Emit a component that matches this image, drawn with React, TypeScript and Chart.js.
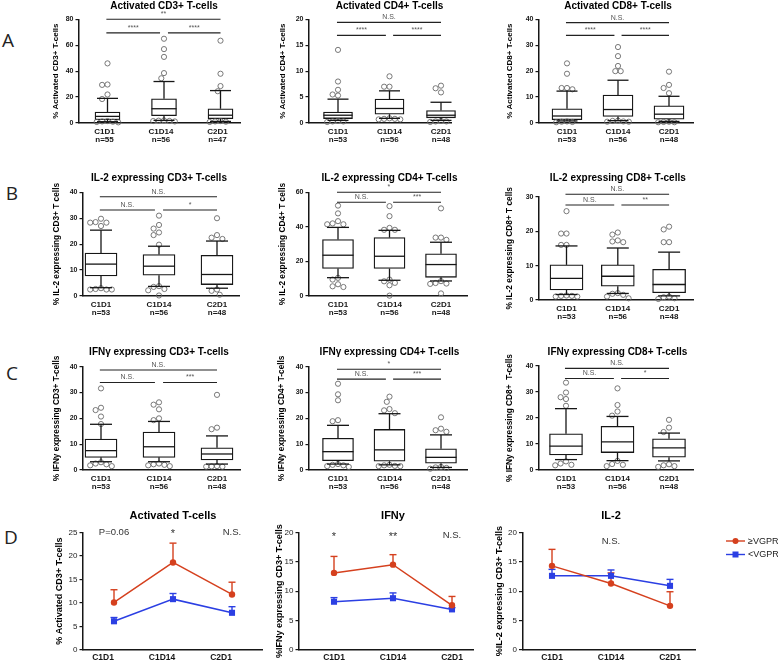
import React, { useEffect, useRef } from 'react';
import { Chart, registerables } from 'chart.js';
Chart.register(...registerables);

const FONT = '"Liberation Sans", Arial, Helvetica, sans-serif';
Chart.defaults.font.family = FONT;

const CATS = ['C1D1', 'C1D14', 'C2D1'];

// ---------- Row A : activated T-cells ----------
// box rows: [low whisker, Q1, median, Q3, high whisker]
const A1_N = ['n=55', 'n=56', 'n=47'];
const A1_BOX = [[1.0, 2.5, 5.1, 8.5, 19], [2.0, 5.6, 11, 18.7, 32], [1.2, 3.3, 6.0, 11, 25]];
const A1_OUT = [[46, 29.7, 29.4, 22, 18.5, 1.5, 1.2, 1.0, 0.8, 0.5], [65, 57, 51, 38.5, 34.5, 2.0, 1.8, 1.6, 1.5, 1.2], [63.5, 38, 28.5, 24.5, 1.5, 1.2, 1.0, 0.8]];
const A1_SIG_Y = [80, 69.5];
const A1_SIG = ['**', '****', '****'];

const A2_N = ['n=53', 'n=56', 'n=48'];
const A2_BOX = [[0.5, 0.85, 1.5, 2.1, 4.6], [0.9, 1.7, 2.8, 4.6, 6.2], [0.5, 1.0, 1.5, 2.4, 4.0]];
const A2_OUT = [[14.1, 8, 6.4, 5.5, 5.3, 0.4, 0.3, 0.3, 0.2], [9, 7, 7, 0.9, 0.8, 0.8, 0.7, 0.7], [7.2, 6.7, 5.9, 0.4, 0.3, 0.3, 0.2]];
const A2_SIG_Y = [19.4, 16.9];
const A2_SIG = ['N.S.', '****', '****'];

const A3_N = ['n=53', 'n=56', 'n=48'];
const A3_BOX = [[0.8, 1.3, 2.7, 5.5, 12.3], [0.9, 2.5, 5.2, 10.8, 16.5], [0.6, 1.5, 3.4, 6.6, 10.3]];
const A3_OUT = [[23, 19, 13.5, 13.5, 13, 0.6, 0.5, 0.4, 0.3], [29.3, 25.8, 22, 20, 20, 0.9, 0.8, 0.6, 0.5, 0.5], [19.8, 14.7, 13.5, 11.5, 0.5, 0.4, 0.3, 0.3]];
const A3_SIG_Y = [38.7, 33.8];
const A3_SIG = ['N.S.', '****', '****'];

// ---------- Row B : IL-2 ----------
const BC_N = ['n=53', 'n=56', 'n=48'];
const B1_BOX = [[3.2, 7.7, 12.3, 16.6, 25.4], [3.7, 8.0, 11.5, 16.0, 19.2], [3.0, 4.4, 8.3, 15.7, 21.2]];
const B1_OUT = [[29.8, 28.5, 28.3, 28.3, 27, 3.0, 2.7, 2.5, 2.5, 2.5], [31, 27.4, 26, 24.5, 23.5, 19.8, 3.8, 3.5, 2.7, 2.2, 0.2], [30, 23.5, 22.5, 22, 2.5, 2.0, 0.5]];
const B1_SIG_Y = [38.3, 33.2];
const B1_SIG = ['N.S.', 'N.S.', '*'];

const B2_BOX = [[10.6, 15.9, 23.6, 32.7, 39.7], [9.1, 15.9, 23.0, 33.8, 38.0], [8.7, 10.8, 18.2, 24.4, 31.1]];
const B2_OUT = [[52.3, 47.8, 43.3, 42, 41.5, 41.5, 10.5, 9.5, 6.8, 5.6, 5.2], [52, 46.2, 39.4, 38.3, 38.3, 9.5, 8.5, 7.6, 6.2, 0.2], [50.7, 33.8, 33.8, 32.5, 8.6, 7.5, 7.2, 7.0, 1.5]];
const B2_SIG_Y = [60, 54.2];
const B2_SIG = ['*', 'N.S.', '***'];

const B3_BOX = [[1.6, 2.9, 6.3, 10.2, 15.7], [1.9, 4.0, 6.9, 10.2, 15.1], [1.2, 2.1, 4.5, 8.9, 13.9]];
const B3_OUT = [[25.8, 19.3, 19.3, 16, 16, 1.3, 1.2, 1.2, 1.0, 1.0], [19.6, 19.0, 17.3, 17, 16.8, 2.0, 1.8, 1.5, 1.0, 0.5], [21.3, 20.5, 16.8, 16.8, 1.0, 0.8, 0.5, 0.3]];
const B3_SIG_Y = [30.7, 27.6];
const B3_SIG = ['N.S.', 'N.S.', '**'];

// ---------- Row C : IFN-gamma ----------
const C1_BOX = [[3.2, 4.9, 7.5, 12, 17.7], [3.2, 4.9, 9.0, 14.7, 18.8], [2.3, 3.9, 6.2, 8.6, 13.2]];
const C1_OUT = [[31.6, 24.1, 23.2, 20.7, 17.8, 3.0, 2.5, 2.2, 1.8, 1.5], [26.2, 25.3, 23.5, 20, 19.3, 2.5, 2.2, 2.0, 1.8, 1.5], [29.1, 16.4, 15.8, 1.5, 1.4, 1.3, 1.3]];
const C1_SIG_Y = [38.7, 33.9];
const C1_SIG = ['N.S.', 'N.S.', '***'];

const C2_BOX = [[2.3, 3.6, 7.1, 12.3, 17.3], [2.0, 3.4, 7.8, 15.7, 21.8], [1.0, 2.6, 4.9, 8.2, 13.6]];
const C2_OUT = [[33.4, 29.3, 27, 19.3, 18.9, 2.3, 2.0, 1.8, 1.5, 1.2], [28.4, 26.4, 23.6, 23.1, 22, 2.0, 1.8, 1.6, 1.5, 1.5], [20.4, 16, 15.4, 14.8, 1.2, 1.0, 0.8, 0.5]];
const C2_SIG_Y = [39, 35.2];
const C2_SIG = ['*', 'N.S.', '***'];

const C3_BOX = [[4.0, 5.8, 9.2, 13.9, 23.6], [3.6, 6.7, 10.8, 16.8, 20.6], [3.5, 4.9, 8.5, 12.0, 14.2]];
const C3_OUT = [[33.6, 29.8, 28, 27.3, 24.7, 3.3, 2.5, 2.0, 1.8], [31.4, 25, 22.5, 20.9, 3.5, 2.3, 2.0, 1.5], [19.3, 16.3, 14.6, 2.2, 1.8, 1.5, 1.2]];
const C3_SIG_Y = [39.1, 35.2];
const C3_SIG = ['N.S.', 'N.S.', '*'];

// ---------- Row D : response groups (mean + SEM) ----------
const SERIES = ['≥VGPR', '<VGPR'];
const D1_HI = [10.1, 18.6, 11.8];
const D1_HI_ERR = [2.7, 4.1, 2.6];
const D1_LO = [6.1, 10.8, 7.9];
const D1_LO_ERR = [0.8, 1.2, 1.3];
const D1_ANN = ['P=0.06', '*', 'N.S.'];

const D2_HI = [13.1, 14.5, 7.6];
const D2_HI_ERR = [2.8, 1.7, 1.5];
const D2_LO = [8.2, 8.8, 6.9];
const D2_LO_ERR = [0.7, 0.9, 0.3];
const D2_ANN = ['*', '**', 'N.S.'];

const D3_HI = [14.3, 11.3, 7.5];
const D3_HI_ERR = [2.8, 1.8, 2.4];
const D3_LO = [12.6, 12.6, 10.9];
const D3_LO_ERR = [1.1, 1.0, 1.1];
const D3_ANN = ['', 'N.S.', ''];

const RED = '#d5401e';
const BLUE = '#2b3fe3';
const INK = '#161616';

// ---------- geometry (page pixels) ----------
const geo = (ax, top, bottom, right, c1, sp, titleY, ytX, ytSize, boxW, extra = {}) =>
  ({ ax, top, bottom, right, c1, sp, titleY, ytX, ytSize, boxW, capW: 21, labelOff: 0, xh: 26, padR: 6, ...extra });

const BOX_PANELS = [
  { title: 'Activated CD3+ T-cells', ytitle: '% Activated CD3+ T-cells', n: A1_N, box: A1_BOX, out: A1_OUT, ymax: 80, step: 20, sigY: A1_SIG_Y, sig: A1_SIG, g: geo(79, 19.3, 122.7, 240, 107.5, 56.5, 6, 56, 8, 25, { labelOff: -3 }) },
  { title: 'Activated CD4+ T-cells', ytitle: '% Activated CD4+ T-cells', n: A2_N, box: A2_BOX, out: A2_OUT, ymax: 20, step: 5, sigY: A2_SIG_Y, sig: A2_SIG, g: geo(309, 19.3, 122.7, 451, 338, 51.5, 6, 283, 8, 29) },
  { title: 'Activated CD8+ T-cells', ytitle: '% Activated CD8+ T-cells', n: A3_N, box: A3_BOX, out: A3_OUT, ymax: 40, step: 10, sigY: A3_SIG_Y, sig: A3_SIG, g: geo(539, 19.3, 122.7, 693, 567, 51, 6, 510, 8, 30) },
  { title: 'IL-2 expressing CD3+ T-cells', ytitle: '% IL-2 expressing CD3+ T cells', n: BC_N, box: B1_BOX, out: B1_OUT, ymax: 40, step: 10, sigY: B1_SIG_Y, sig: B1_SIG, g: geo(83, 192.3, 295.7, 239, 101, 58, 178.5, 57, 8.3, 32, { capW: 22 }) },
  { title: 'IL-2 expressing CD4+ T-cells', ytitle: '% IL-2 expressing CD4+ T cells', n: BC_N, box: B2_BOX, out: B2_OUT, ymax: 60, step: 20, sigY: B2_SIG_Y, sig: B2_SIG, g: geo(309, 192.3, 295.7, 467, 338, 51.5, 178.5, 283, 8.3, 31, { capW: 22 }) },
  { title: 'IL-2 expressing CD8+ T-cells', ytitle: '% IL-2 expressing CD8+ T cells', n: BC_N, box: B3_BOX, out: B3_OUT, ymax: 30, step: 10, sigY: B3_SIG_Y, sig: B3_SIG, g: geo(539, 196.7, 300, 693, 566.5, 51.3, 178.5, 510, 8.3, 33, { capW: 22 }) },
  { title: 'IFNγ expressing CD3+ T-cells', ytitle: '% IFNy expressing CD3+ T-cells', n: BC_N, box: C1_BOX, out: C1_OUT, ymax: 40, step: 10, sigY: C1_SIG_Y, sig: C1_SIG, g: geo(83, 366.7, 470, 240, 101, 58, 352, 57, 8.3, 32, { capW: 22 }) },
  { title: 'IFNγ expressing CD4+ T-cells', ytitle: '% IFNy expressing CD4+ T-cells', n: BC_N, box: C2_BOX, out: C2_OUT, ymax: 40, step: 10, sigY: C2_SIG_Y, sig: C2_SIG, g: geo(309, 366.7, 469.3, 467, 338, 51.5, 352, 282, 8.3, 31, { capW: 22 }) },
  { title: 'IFNγ expressing CD8+ T-cells', ytitle: '% IFNy expressing CD8+  T-cells', n: BC_N, box: C3_BOX, out: C3_OUT, ymax: 40, step: 10, sigY: C3_SIG_Y, sig: C3_SIG, g: geo(539, 366, 469.3, 693, 566, 51.5, 352, 510, 8.3, 33, { capW: 22 }) },
];

const LINE_PANELS = [
  { title: 'Activated T-cells', ytitle: '% Activated CD3+ T-cells', hi: D1_HI, hiErr: D1_HI_ERR, lo: D1_LO, loErr: D1_LO_ERR, ann: D1_ANN, annY: 25, ymax: 25, legend: false, g: geo(83, 532.3, 650, 262, 114, 59, 515.5, 60, 9, 0, { xh: 13, labelOff: -11 }) },
  { title: 'IFNy', ytitle: '%IFNy expressing CD3+ T-cells', hi: D2_HI, hiErr: D2_HI_ERR, lo: D2_LO, loErr: D2_LO_ERR, ann: D2_ANN, annY: 19.5, ymax: 20, legend: false, g: geo(299, 532.3, 650, 473, 334, 59, 516, 280, 9, 0, { xh: 13 }) },
  { title: 'IL-2', ytitle: '%IL-2 expressing CD3+ T-cells', hi: D3_HI, hiErr: D3_HI_ERR, lo: D3_LO, loErr: D3_LO_ERR, ann: D3_ANN, annY: 18.5, ymax: 20, legend: true, g: geo(522.5, 532.3, 650, 695, 552, 59, 516, 500, 9, 0, { xh: 13, padR: 83 }) },
];

function canvasBox(g) {
  const l = Math.floor(g.ytX - 8);
  const t = Math.max(0, Math.floor(g.titleY - 9));
  const r = Math.ceil(g.right + g.padR);
  const b = Math.min(663, Math.ceil(g.bottom + g.xh));
  return { l, t, w: r - l, h: b - t };
}

// spread outliers side by side so circles do not overlap (beeswarm)
function swarm(vals, cat, pxX, pxY, d) {
  const placed = [];
  return vals.map((v) => {
    const py = v * pxY;
    for (let k = 0; k < 40; k++) {
      const m = Math.ceil(k / 2) * (k % 2 ? -1 : 1);
      const px = m * d * 0.5;
      if (placed.every(([qx, qy]) => Math.hypot(qx - px, qy - py) >= d)) {
        placed.push([px, py]);
        return { x: cat + px / pxX, y: v };
      }
    }
    return { x: cat, y: v };
  });
}

function seg(ctx, x1, y1, x2, y2) {
  ctx.beginPath();
  ctx.moveTo(x1, y1);
  ctx.lineTo(x2, y2);
  ctx.stroke();
}

function drawYTitle(ctx, text, x, y, size) {
  ctx.save();
  ctx.translate(x, y);
  ctx.rotate(-Math.PI / 2);
  ctx.font = `bold ${size}px ${FONT}`;
  ctx.fillStyle = '#000';
  ctx.textAlign = 'center';
  ctx.textBaseline = 'middle';
  ctx.fillText(text, 0, 0);
  ctx.restore();
}

function xScale(g, labels, font, padding) {
  return {
    type: 'linear', offset: false,
    min: 1 - (g.c1 - g.ax) / g.sp,
    max: 1 + (g.right - g.c1) / g.sp,
    afterBuildTicks: (sc) => { sc.ticks = CATS.map((_, i) => ({ value: i + 1 })); },
    afterFit: (sc) => { sc.height = g.xh; },
    ticks: { autoSkip: false, maxRotation: 0, minRotation: 0, padding, labelOffset: g.labelOff, color: INK, font, callback: (v) => labels[Math.round(v) - 1] },
    grid: { display: true, drawOnChartArea: false, drawTicks: false },
    border: { display: true, color: INK, width: 1.5 },
  };
}

function yScale(g, l, ymax, step, font, color) {
  return {
    type: 'linear', min: 0, max: ymax,
    afterFit: (sc) => { sc.width = g.ax - l; },
    ticks: { stepSize: step, padding: 2, color, font },
    grid: { display: true, drawOnChartArea: false, drawTicks: true, tickLength: 3.5, color: INK, lineWidth: 1.2 },
    border: { display: true, color: INK, width: 1.5 },
  };
}

function boxConfig(s) {
  const g = s.g;
  const { l, t } = canvasBox(g);
  const pxY = (g.bottom - g.top) / s.ymax;
  const outliers = [];
  s.out.forEach((vals, i) => swarm(vals, i + 1, g.sp, pxY, 5.4).forEach((p) => outliers.push(p)));
  const boxes = s.box.map((b, i) => ({ x: i + 1, y: [b[1], b[3]] }));
  const labels = CATS.map((c, i) => [c, s.n[i]]);
  const plugin = {
    id: 'boxExtras',
    afterDatasetsDraw(chart) {
      const { ctx, chartArea, scales } = chart;
      const x = scales.x, y = scales.y;
      const py = (v) => y.getPixelForValue(v);
      ctx.save();
      ctx.strokeStyle = INK;
      ctx.lineWidth = 1.3;
      s.box.forEach((b, i) => {
        const cx = x.getPixelForValue(i + 1);
        const hw = g.boxW / 2, cw = g.capW / 2;
        seg(ctx, cx - hw, py(b[2]), cx + hw, py(b[2]));
        seg(ctx, cx, py(b[3]), cx, py(b[4]));
        seg(ctx, cx - cw, py(b[4]), cx + cw, py(b[4]));
        seg(ctx, cx, py(b[1]), cx, py(b[0]));
        seg(ctx, cx - cw, py(b[0]), cx + cw, py(b[0]));
      });
      // significance brackets
      ctx.lineWidth = 1.1;
      ctx.strokeStyle = '#222';
      ctx.fillStyle = '#555';
      ctx.font = `7px ${FONT}`;
      ctx.textAlign = 'center';
      ctx.textBaseline = 'bottom';
      const xa = x.getPixelForValue(0.98), xb = x.getPixelForValue(1.93);
      const xc = x.getPixelForValue(2.07), xd = x.getPixelForValue(3.0);
      const yt = py(s.sigY[0]), yl = py(s.sigY[1]);
      seg(ctx, xa, yt, xd, yt); ctx.fillText(s.sig[0], (xa + xd) / 2, yt - 1.5);
      seg(ctx, xa, yl, xb, yl); ctx.fillText(s.sig[1], (xa + xb) / 2, yl - 1.5);
      seg(ctx, xc, yl, xd, yl); ctx.fillText(s.sig[2], (xc + xd) / 2, yl - 1.5);
      // title
      ctx.fillStyle = '#000';
      ctx.font = `bold 10px ${FONT}`;
      ctx.textBaseline = 'middle';
      ctx.fillText(s.title, x.getPixelForValue(2), g.titleY - t);
      drawYTitle(ctx, s.ytitle, g.ytX - l, (chartArea.top + chartArea.bottom) / 2, g.ytSize);
      ctx.restore();
    },
  };
  return {
    type: 'bar',
    data: {
      datasets: [
        { type: 'scatter', data: outliers, pointRadius: 2.6, pointStyle: 'circle', pointBorderColor: '#6a6a6a', pointBackgroundColor: 'rgba(255,255,255,0)', pointBorderWidth: 0.9, showLine: false, clip: false },
        { type: 'bar', data: boxes, backgroundColor: '#ffffff', borderColor: INK, borderWidth: 1.3, borderSkipped: false, barThickness: g.boxW, clip: false },
      ],
    },
    options: {
      responsive: false, animation: false, events: [],
      layout: { padding: { top: g.top - t, right: g.padR, left: 0, bottom: 0 } },
      plugins: { legend: { display: false }, tooltip: { enabled: false }, title: { display: false } },
      scales: {
        x: xScale(g, labels, { size: 8, weight: 'bold', lineHeight: 1.1 }, 4),
        y: yScale(g, l, s.ymax, s.step, { size: 7, weight: 'bold' }, INK),
      },
    },
    plugins: [plugin],
  };
}

function lineConfig(s) {
  const g = s.g;
  const { l, t } = canvasBox(g);
  const toPts = (arr) => arr.map((v, i) => ({ x: i + 1, y: v }));
  const errs = [s.hiErr, s.loErr];
  const plugin = {
    id: 'lineExtras',
    beforeDatasetsDraw(chart) {
      const { ctx, scales } = chart;
      const x = scales.x, y = scales.y;
      ctx.save();
      ctx.lineWidth = 1.4;
      chart.data.datasets.forEach((ds, di) => {
        ctx.strokeStyle = ds.borderColor;
        ds.data.forEach((p, i) => {
          const cx = x.getPixelForValue(p.x);
          const y0 = y.getPixelForValue(p.y), y1 = y.getPixelForValue(p.y + errs[di][i]);
          seg(ctx, cx, y0, cx, y1);
          seg(ctx, cx - 3.5, y1, cx + 3.5, y1);
        });
      });
      ctx.restore();
    },
    afterDatasetsDraw(chart) {
      const { ctx, chartArea, scales } = chart;
      const x = scales.x, y = scales.y;
      ctx.save();
      ctx.fillStyle = '#000';
      ctx.textAlign = 'center';
      ctx.textBaseline = 'middle';
      ctx.font = `bold 11px ${FONT}`;
      ctx.fillText(s.title, x.getPixelForValue(2), g.titleY - t);
      ctx.fillStyle = '#333';
      s.ann.forEach((a, i) => {
        if (!a) return;
        ctx.font = a.startsWith('*') ? `11px ${FONT}` : `9.5px ${FONT}`;
        ctx.fillText(a, x.getPixelForValue(i + 1), y.getPixelForValue(s.annY) + (a.startsWith('*') ? 2 : 0));
      });
      drawYTitle(ctx, s.ytitle, g.ytX - l, (chartArea.top + chartArea.bottom) / 2, g.ytSize);
      if (s.legend) {
        chart.data.datasets.forEach((ds, di) => {
          const ly = 541 + di * 13.5 - t;
          const lx = 726 - l;
          ctx.strokeStyle = ds.borderColor;
          ctx.fillStyle = ds.borderColor;
          ctx.lineWidth = 1.4;
          seg(ctx, lx, ly, lx + 19, ly);
          if (di === 0) { ctx.beginPath(); ctx.arc(lx + 9.5, ly, 3, 0, Math.PI * 2); ctx.fill(); }
          else ctx.fillRect(lx + 6.5, ly - 3, 6, 6);
          ctx.fillStyle = '#222';
          ctx.font = `9px ${FONT}`;
          ctx.textAlign = 'left';
          ctx.fillText(ds.label, lx + 22, ly + 0.5);
          ctx.textAlign = 'center';
        });
      }
      ctx.restore();
    },
  };
  return {
    type: 'line',
    data: {
      datasets: [
        { label: SERIES[0], data: toPts(s.hi), borderColor: RED, backgroundColor: RED, pointStyle: 'circle', pointRadius: 3.2, pointBorderWidth: 0, borderWidth: 1.5, clip: false },
        { label: SERIES[1], data: toPts(s.lo), borderColor: BLUE, backgroundColor: BLUE, pointStyle: 'rect', pointRadius: 4.3, pointBorderWidth: 0, borderWidth: 1.5, clip: false },
      ],
    },
    options: {
      responsive: false, animation: false, events: [],
      layout: { padding: { top: g.top - t, right: g.padR, left: 0, bottom: 0 } },
      plugins: { legend: { display: false }, tooltip: { enabled: false }, title: { display: false } },
      scales: {
        x: xScale(g, CATS, { size: 8.5, weight: 'bold' }, 2.5),
        y: yScale(g, l, s.ymax, 5, { size: 8 }, '#222'),
      },
    },
    plugins: [plugin],
  };
}

function Panel({ g, make }) {
  const ref = useRef(null);
  const b = canvasBox(g);
  useEffect(() => {
    const chart = new Chart(ref.current, make());
    return () => chart.destroy();
  }, []);
  return (
    <canvas ref={ref} width={b.w} height={b.h}
      style={{ position: 'absolute', left: b.l, top: b.t, width: b.w, height: b.h }} />
  );
}

const LETTERS = [['A', 8, 40], ['B', 12, 193], ['C', 12, 373], ['D', 11, 537]];

export default function App() {
  return (
    <div style={{ position: 'fixed', left: 0, top: 0, width: 778, height: 663, background: '#fff', overflow: 'hidden', fontFamily: FONT }}>
      {LETTERS.map(([ch, x, y]) => (
        <div key={ch as string} style={{ position: 'absolute', left: (x as number) - 10, top: (y as number) - 11, width: 20, height: 22, lineHeight: '22px', textAlign: 'center', fontFamily: '"Open Sans", sans-serif', fontSize: 19, color: '#222' }}>{ch}</div>
      ))}
      {BOX_PANELS.map((s, i) => <Panel key={'b' + i} g={s.g} make={() => boxConfig(s)} />)}
      {LINE_PANELS.map((s, i) => <Panel key={'l' + i} g={s.g} make={() => lineConfig(s)} />)}
    </div>
  );
}
